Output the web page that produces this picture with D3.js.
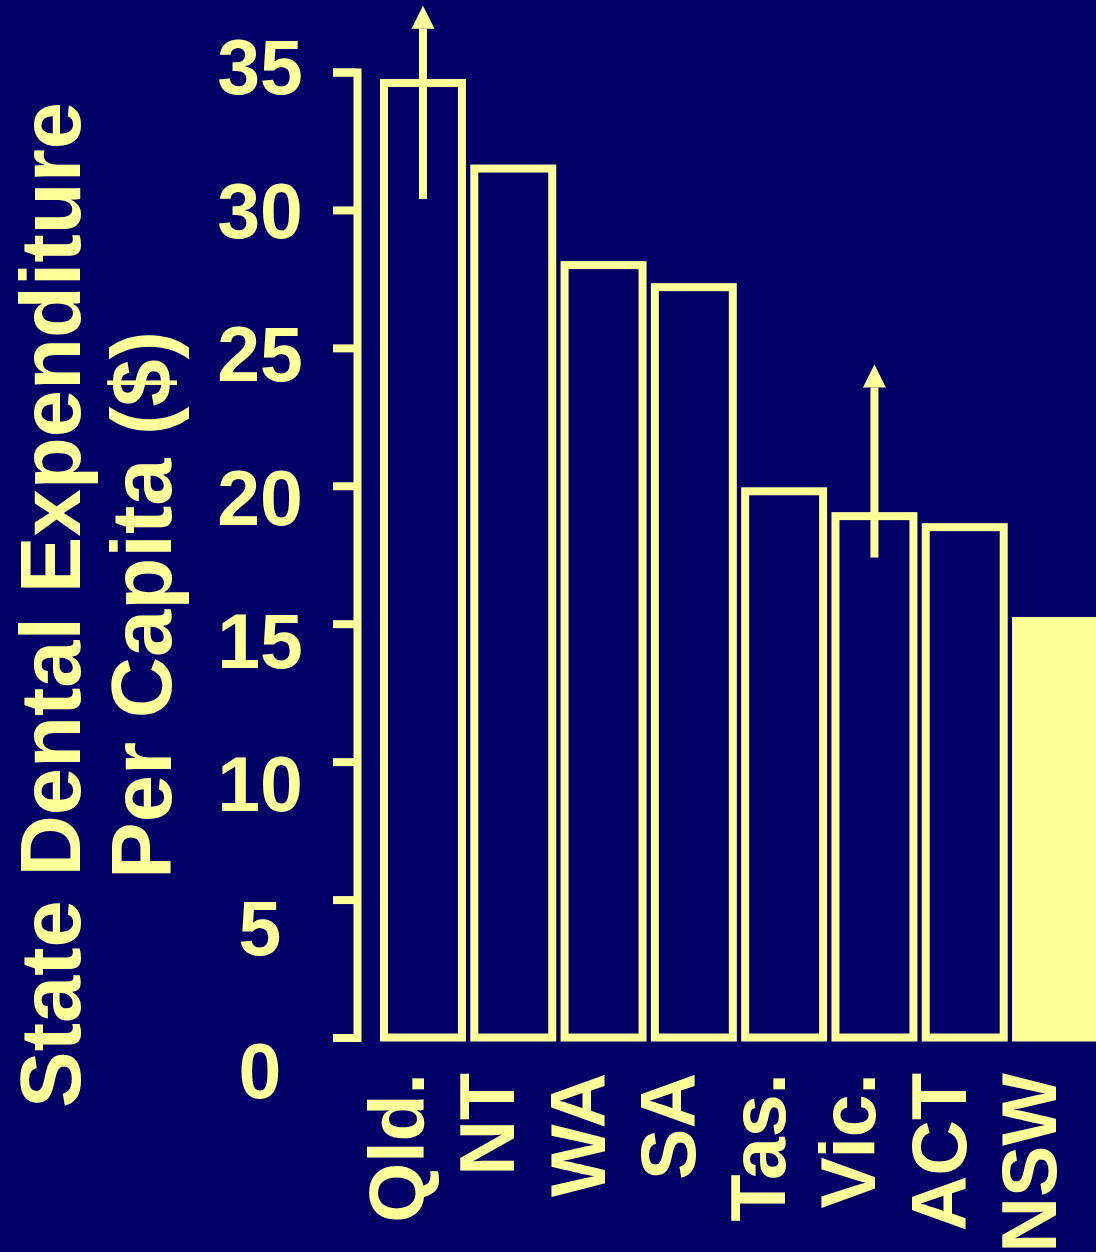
<!DOCTYPE html>
<html>
<head>
<meta charset="utf-8">
<script src="https://cdn.jsdelivr.net/npm/d3@7"></script>
<style>
    html, body { margin: 0; padding: 0; background: #000066; }
    svg { display: block; }
    text { font-family: "Liberation Sans", Arial, sans-serif; font-weight: bold; fill: #ffff99; }
</style>
</head>
<body>
<div class="chart-container"></div>
<script>
// Data
const states = ['Qld.', 'NT', 'WA', 'SA', 'Tas.', 'Vic.', 'ACT', 'NSW'];
const expenditure = [34.6, 31.5, 28.0, 27.2, 19.8, 18.9, 18.5, 15.1];
const yTicks = [0, 5, 10, 15, 20, 25, 30, 35];
const highlightState = 'NSW';

// Range bars (low end, arrow tip) for two states
const rangeStates = ['Qld.', 'Vic.'];
const rangeLow = [30.4, 17.4];
const rangeHigh = [37.4, 24.4];

const titleLines = ['State Dental Expenditure', 'Per Capita ($)'];

const barData = states.map((s, i) => ({ state: s, value: expenditure[i] }));
const rangeData = rangeStates.map((s, i) => ({ state: s, low: rangeLow[i], high: rangeHigh[i] }));

const yellow = '#ffff99';
const navy = '#000066';
const svg_width = 1096;
const svg_height = 1252;

const svg = d3.select('.chart-container').append('svg')
    .attr('width', svg_width).attr('height', svg_height);

svg.append('rect').attr('width', svg_width).attr('height', svg_height).attr('fill', navy);

// scales
const yScale = d3.scaleLinear().domain([0, 35]).range([1037.5, 72]);
// tick labels sit on a slightly looser spacing than the tick marks
const yLabelScale = d3.scaleLinear().domain([0, 35]).range([1070, 66]);
const xScale = d3.scaleBand().domain(states).range([380, 1098]).paddingInner(0.048).paddingOuter(0);

const sw = 8;

// Draw bars
svg.selectAll('.bar')
    .data(barData)
    .enter()
    .append('rect')
    .attr('class', 'bar')
    .attr('x', d => xScale(d.state) + sw / 2)
    .attr('y', d => yScale(d.value))
    .attr('width', xScale.bandwidth() - sw)
    .attr('height', d => yScale(0) - yScale(d.value))
    .attr('fill', d => d.state === highlightState ? yellow : navy)
    .attr('stroke', yellow)
    .attr('stroke-width', sw);

// Range shafts with arrow heads
const headH = 23;
const headW = 23;
const cx = d => xScale(d.state) + xScale.bandwidth() / 2;

svg.selectAll('.range-line')
    .data(rangeData)
    .enter()
    .append('line')
    .attr('class', 'range-line')
    .attr('x1', cx).attr('x2', cx)
    .attr('y1', d => yScale(d.low))
    .attr('y2', d => yScale(d.high) + headH)
    .attr('stroke', yellow)
    .attr('stroke-width', sw);

svg.selectAll('.range-head')
    .data(rangeData)
    .enter()
    .append('path')
    .attr('class', 'range-head')
    .attr('d', d => {
        const p = d3.path();
        const x = cx(d), y = yScale(d.high);
        p.moveTo(x, y);
        p.lineTo(x + headW / 2, y + headH);
        p.lineTo(x - headW / 2, y + headH);
        p.closePath();
        return p.toString();
    })
    .attr('fill', yellow);

// Y axis line and ticks
const yAxis = d3.axisLeft(yScale).tickValues(yTicks).tickFormat('').tickSizeInner(24).tickSizeOuter(24);
const yAxisDraw = svg.append('g').attr('class', 'y axis')
    .attr('transform', 'translate(357, 0)')
    .call(yAxis);
yAxisDraw.select('.domain').attr('stroke', yellow).attr('stroke-width', sw).attr('fill', 'none');
yAxisDraw.selectAll('.tick line').attr('stroke', yellow).attr('stroke-width', sw);

// Y tick labels (centred in their column)
const yLabelAxis = d3.axisLeft(yLabelScale).tickValues(yTicks).tickSize(0).tickPadding(0);
const yLabelDraw = svg.append('g').attr('class', 'y labels')
    .attr('transform', 'translate(260, 0)')
    .call(yLabelAxis);
yLabelDraw.select('.domain').remove();
yLabelDraw.selectAll('text')
    .attr('text-anchor', 'middle')
    .attr('dy', '0.36em')
    .style('font-size', '77px')
    .style('font-family', '"Liberation Sans", Arial, sans-serif')
    .style('font-weight', 'bold')
    .attr('fill', yellow);

// X category labels
svg.selectAll('.x-label')
    .data(states)
    .enter()
    .append('text')
    .attr('class', 'x-label')
    .attr('transform', d => `translate(${xScale(d) + xScale.bandwidth() / 2 + 1}, 1073) rotate(-90)`)
    .attr('text-anchor', 'end')
    .style('font-size', '77px')
    .text(d => d);

// Y axis title
svg.selectAll('.y-title')
    .data(titleLines)
    .enter()
    .append('text')
    .attr('class', 'y-title')
    .attr('transform', (d, i) => `translate(${80 + i * 91}, 605) rotate(-90)`)
    .attr('text-anchor', 'middle')
    .style('font-size', '85px')
    .text(d => d);
</script>
</body>
</html>
